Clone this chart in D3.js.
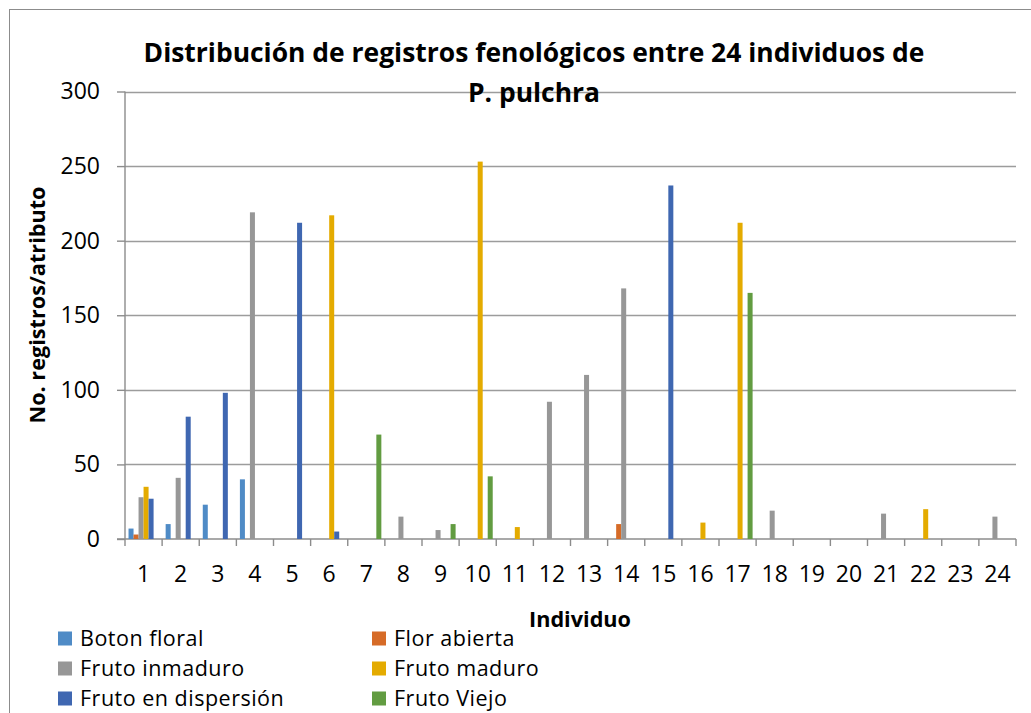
<!DOCTYPE html>
<html>
<head>
<meta charset="utf-8">
<script src="https://cdn.jsdelivr.net/npm/d3@7"></script>
<style>
  html, body { margin: 0; padding: 0; background: #fff; }
  svg { display: block; font-family: "Open Sans", sans-serif; }
</style>
</head>
<body>
<svg id="chart" width="1031" height="713"></svg>
<script>
// ---- data ----
const categories = ["1","2","3","4","5","6","7","8","9","10","11","12","13","14","15","16","17","18","19","20","21","22","23","24"];
const seriesNames = ["Boton floral","Flor abierta","Fruto inmaduro","Fruto maduro","Fruto en dispersión","Fruto Viejo"];
const botonFloral     = [7,10,23,40,0,0,0,0,0,0,0,0,0,0,0,0,0,0,0,0,0,0,0,0];
const florAbierta     = [3,0,0,0,0,0,0,0,0,0,0,0,0,10,0,0,0,0,0,0,0,0,0,0];
const frutoInmaduro   = [28,41,0,219,0,0,0,15,6,0,0,92,110,168,0,0,0,19,0,0,17,0,0,15];
const frutoMaduro     = [35,0,0,0,0,217,0,0,0,253,8,0,0,0,0,11,212,0,0,0,0,20,0,0];
const frutoDispersion = [27,82,98,0,212,5,0,0,0,0,0,0,0,0,237,0,0,0,0,0,0,0,0,0];
const frutoViejo      = [0,0,0,0,0,0,70,0,10,42,0,0,0,0,0,0,165,0,0,0,0,0,0,0];
const yTicks = [0,50,100,150,200,250,300];
const titleLines = ["Distribución de registros fenológicos entre 24 individuos de","P. pulchra"];
const xTitle = "Individuo";
const yTitle = "No. registros/atributo";
const colors = ["#4F8BC6","#D66B27","#979797","#E4AB00","#3F67B1","#629C41"];

const seriesValues = [botonFloral, florAbierta, frutoInmaduro, frutoMaduro, frutoDispersion, frutoViejo];

// ---- layout ----
const svg = d3.select("#chart");
const plot = {left: 125, right: 1016, top: 91.5, bottom: 539};

const x = d3.scaleBand().domain(categories).range([plot.left, plot.right])
  .paddingInner(0.19).paddingOuter(0.095);
const xs = d3.scaleBand().domain(seriesNames).range([0, x.bandwidth()]);
const y = d3.scaleLinear().domain([0, 300]).range([plot.bottom, plot.top]);
const color = d3.scaleOrdinal().domain(seriesNames).range(colors);

// chart border
svg.append("rect").attr("x", 9.5).attr("y", 9.5).attr("width", 1100).attr("height", 800)
  .attr("fill", "none").attr("stroke", "#8c8c8c").attr("stroke-width", 1);

// gridlines
svg.append("g").selectAll("line").data(yTicks.filter(d => d > 0)).join("line")
  .attr("x1", plot.left).attr("x2", plot.right)
  .attr("y1", d => Math.round(y(d)) + 0.5).attr("y2", d => Math.round(y(d)) + 0.5)
  .attr("stroke", "#9c9c9c").attr("stroke-width", 1.4);

// y axis
const yAxis = d3.axisLeft(y).tickValues(yTicks).tickSize(8).tickPadding(17);
const gy = svg.append("g").attr("transform", `translate(${plot.left},0)`).call(yAxis);
gy.select(".domain").attr("stroke", "#8c8c8c").attr("stroke-width", 1.4).attr("d", `M0,${y(300)}V${y(0)}`);
gy.selectAll(".tick line").attr("stroke", "#8c8c8c").attr("stroke-width", 1.4);
gy.selectAll(".tick text").attr("font-size", 23).attr("fill", "#000")
  .attr("font-family", "'Open Sans', sans-serif");

// x axis
const boundaries = d3.range(categories.length + 1).map(i => plot.left + i * x.step());
const gx = svg.append("g");
gx.append("line").attr("x1", plot.left - 8).attr("x2", plot.right)
  .attr("y1", plot.bottom).attr("y2", plot.bottom)
  .attr("stroke", "#8c8c8c").attr("stroke-width", 1.4);
gx.selectAll("line.tk").data(boundaries).join("line").attr("class", "tk")
  .attr("x1", d => d).attr("x2", d => d).attr("y1", plot.bottom).attr("y2", plot.bottom + 7)
  .attr("stroke", "#8c8c8c").attr("stroke-width", 1.4);
gx.selectAll("text").data(categories).join("text")
  .attr("x", d => x(d) + x.bandwidth() / 2).attr("y", 582)
  .attr("text-anchor", "middle").attr("font-size", 23).attr("fill", "#000")
  .text(d => d);

// bars
const groups = svg.append("g").selectAll("g").data(seriesNames).join("g")
  .attr("fill", d => color(d));
groups.each(function(name, si) {
  d3.select(this).selectAll("rect")
    .data(categories.map((c, i) => ({c, v: seriesValues[si][i]})).filter(d => d.v > 0))
    .join("rect")
    .attr("x", d => x(d.c) + xs(name))
    .attr("width", xs.bandwidth())
    .attr("y", d => y(d.v))
    .attr("height", d => y(0) - y(d.v));
});

// helper to fit font size to a measured width
function fitSize(text, weight, target) {
  const t = svg.append("text").attr("font-size", 100).attr("font-weight", weight).text(text);
  const w = t.node().getComputedTextLength();
  t.remove();
  return 100 * target / w;
}

// title
const titleSize = fitSize(titleLines[0], "bold", 781);
svg.append("g").selectAll("text").data(titleLines).join("text")
  .attr("x", 534).attr("y", (d, i) => i === 0 ? 62 : 102)
  .attr("text-anchor", "middle").attr("font-weight", "bold")
  .attr("font-size", titleSize).attr("fill", "#000").text(d => d);

// axis titles
const axisTitleSize = fitSize(xTitle, "bold", 102);
svg.append("text").attr("x", 580).attr("y", 627).attr("text-anchor", "middle")
  .attr("font-weight", "bold").attr("font-size", axisTitleSize).text(xTitle);
svg.append("text").attr("transform", "translate(45,305) rotate(-90)")
  .attr("text-anchor", "middle").attr("font-weight", "bold")
  .attr("font-size", axisTitleSize).text(yTitle);

// legend
const legendPos = [[58,646],[372,646],[58,676],[372,676],[58,706],[372,706]];
const lg = svg.append("g").selectAll("g").data(seriesNames).join("g")
  .attr("transform", (d, i) => `translate(${legendPos[i][0]},${legendPos[i][1]})`);
lg.append("rect").attr("x", 0).attr("y", -14.5).attr("width", 14).attr("height", 14)
  .attr("fill", d => color(d));
lg.append("text").attr("x", 22).attr("y", 0).attr("font-size", 21.5)
  .attr("letter-spacing", 0.5).attr("fill", "#000")
  .text(d => d);
</script>
</body>
</html>
